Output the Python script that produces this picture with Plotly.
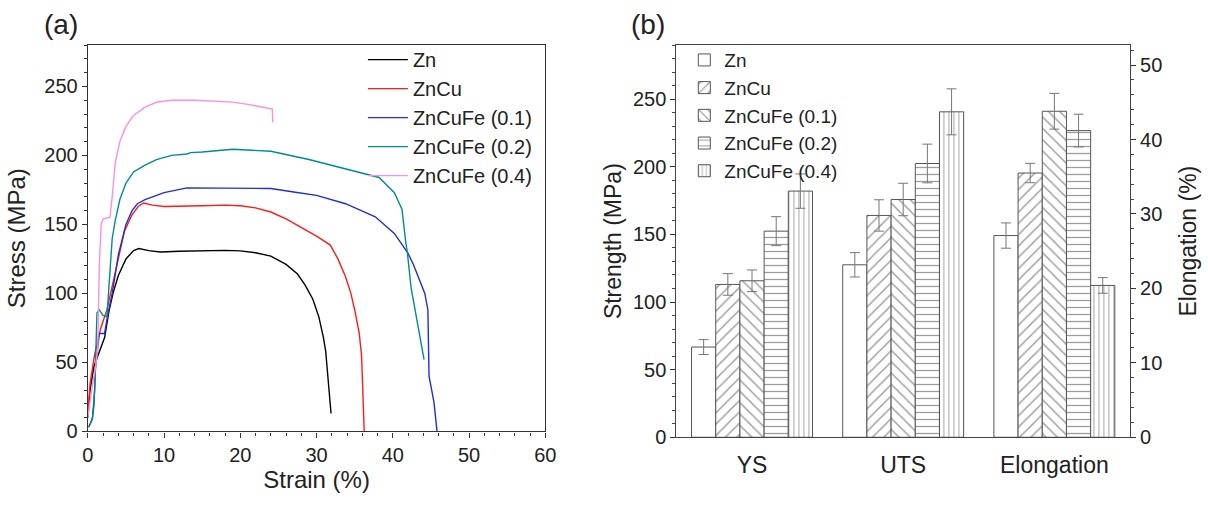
import plotly.graph_objects as go

# ---------------- Panel (a): stress-strain curves ----------------
zn_strain = [0, 0.3, 0.8, 1.5, 2.2, 2.8, 3.3, 4.0, 5.0, 6.0, 6.7, 8.0, 9.5, 12, 15, 18, 20, 22, 24, 26, 27.5, 28.5, 29.5, 30.3, 30.9, 31.2, 31.4, 31.6, 31.9]
zn_stress = [10, 30, 47, 57, 68, 88, 100, 113, 125, 131, 132.5, 131, 130, 130.5, 131, 131.2, 130.8, 129.5, 127, 121, 114, 106, 96, 83, 68, 58, 45, 30, 13]

zncu_strain = [0, 0.3, 0.9, 1.7, 2.5, 3.0, 4.0, 4.8, 5.8, 6.6, 7.3, 8.5, 10, 12, 15, 18, 20, 22, 24, 26, 28, 30, 31.8, 32.8, 33.8, 34.5, 35.0, 35.6, 35.9, 36.0, 36.15, 36.25]
zncu_stress = [14, 35, 56, 75, 88, 100, 125, 145, 157, 163, 165.5, 164, 163, 163, 163.5, 164, 163.5, 162, 159, 154, 148, 141.5, 135, 125, 112, 100, 88, 71, 55, 40, 20, 0]

fe01_strain = [0.1, 0.3, 0.6, 0.8, 1.0, 1.5, 2.2, 2.6, 3.2, 4.0, 5.0, 5.8, 6.5, 7.5, 10, 13, 16, 20, 24, 27, 30, 33.8, 37.7, 40.2, 42, 42.7, 43.5, 44.2, 44.6, 44.75, 45.1, 45.4, 45.8]
fe01_stress = [3, 5, 9, 19, 45, 71, 71, 84, 100, 128, 150, 160, 165, 168, 173, 176.5, 176.5, 176.3, 176, 173.5, 171, 165, 155.5, 143.5, 129, 121, 110, 100, 88, 40, 30, 21, 0]

fe02_strain = [0.3, 0.6, 0.9, 1.2, 1.5, 2.0, 2.5, 2.8, 3.2, 3.6, 4.2, 5.0, 6.0, 7.5, 9, 11, 13, 13.5, 15, 19, 24, 29, 34, 38.2, 40.2, 41.2, 41.7, 41.9, 42.4, 44.1]
fe02_stress = [5, 10, 30, 86, 88, 84, 83, 110, 140, 153, 168, 180, 188, 193, 197, 200, 201, 202, 202.5, 204.5, 203, 197, 190, 184, 173, 161, 137, 130, 104, 52]

fe04_strain = [0, 0.5, 1.0, 1.3, 1.5, 1.75, 2.0, 2.9, 3.2, 3.6, 4.2, 5.0, 6.0, 7.5, 9, 11, 14, 19, 21, 23, 24.2, 24.25]
fe04_stress = [10, 30, 46, 60, 120, 150, 154, 155, 170, 195, 210, 221, 229, 235, 238.5, 240, 240, 238.6, 237, 235, 233.5, 224]

curve_names = ["Zn", "ZnCu", "ZnCuFe (0.1)", "ZnCuFe (0.2)", "ZnCuFe (0.4)"]
curve_colors = ["#000000", "#ff1a1a", "#1f2fd6", "#008c8c", "#ff8fdc"]
curve_x = [zn_strain, zncu_strain, fe01_strain, fe02_strain, fe04_strain]
curve_y = [zn_stress, zncu_stress, fe01_stress, fe02_stress, fe04_stress]

# ---------------- Panel (b): bar chart ----------------
strength_cats = ["YS", "UTS"]
elong_cat = ["Elongation"]
bar_names = ["Zn", "ZnCu", "ZnCuFe (0.1)", "ZnCuFe (0.2)", "ZnCuFe (0.4)"]
ys_vals = [66.7, 113, 115.7, 152.4, 182]
ys_err = [5.5, 8, 8, 10.7, 12.7]
uts_vals = [127.5, 164, 175.8, 202.4, 240.6]
uts_err = [9, 11.6, 12, 14.3, 17]
elong_vals = [27.1, 35.5, 43.8, 41.2, 20.4]
elong_err = [1.7, 1.3, 2.4, 2.2, 1.05]
patterns = ["", "/", "\\", "-", "|"]
pattern_sizes = [8, 8, 8, 7, 5]

FONT = "Liberation Sans, Arial, sans-serif"
TXT = "#222222"

fig = go.Figure()

for name, col, xs, ys in zip(curve_names, curve_colors, curve_x, curve_y):
    fig.add_trace(go.Scatter(x=xs, y=ys, mode="lines", name=name,
                             line=dict(color=col, width=1.4),
                             xaxis="x", yaxis="y", legend="legend"))

for i, name in enumerate(bar_names):
    marker = dict(color="white", line=dict(color="#555555", width=1),
                  pattern=dict(shape=patterns[i], fgcolor="#3a3a3a", bgcolor="white",
                               size=pattern_sizes[i], solidity=0.18))
    fig.add_trace(go.Bar(x=strength_cats, y=[ys_vals[i], uts_vals[i]], name=name,
                         marker=marker,
                         error_y=dict(type="data", array=[ys_err[i], uts_err[i]],
                                      color="#777777", thickness=1, width=5),
                         xaxis="x2", yaxis="y2", legend="legend2",
                         legendgroup=name, showlegend=True))
    fig.add_trace(go.Bar(x=elong_cat, y=[elong_vals[i]], name=name,
                         marker=marker,
                         error_y=dict(type="data", array=[elong_err[i]],
                                      color="#777777", thickness=1, width=5),
                         xaxis="x2", yaxis="y3", legend="legend2",
                         legendgroup=name, showlegend=False))

W, H = 1208, 506
def px(v):
    return v / W
def py(v):
    return 1 - v / H

axis_common = dict(showline=True, linecolor="#333333", linewidth=1.2, mirror=True,
                   ticks="outside", ticklen=5, tickcolor="#333333", tickwidth=1,
                   showgrid=False, zeroline=False,
                   tickfont=dict(family=FONT, size=20, color=TXT),
                   title_font=dict(family=FONT, size=24, color=TXT))
axis_b = {**axis_common, "mirror": False, "linecolor": "#444444",
          "title_font": dict(family=FONT, size=23, color=TXT)}

fig.update_layout(
    width=W, height=H,
    margin=dict(l=0, r=0, t=0, b=0),
    paper_bgcolor="white", plot_bgcolor="white",
    barmode="group", bargap=0.2, bargroupgap=0,
    font=dict(family=FONT, color=TXT),
    xaxis=dict(domain=[px(83), px(547)], range=[0, 60], dtick=10,
               minor=dict(dtick=2, ticks="outside", ticklen=3, tickcolor="#333333"),
               title=dict(text="Strain (%)", standoff=6), anchor="y", **axis_common),
    yaxis=dict(domain=[py(441), py(46)], range=[0, 280], dtick=50,
               minor=dict(dtick=10, ticks="outside", ticklen=3, tickcolor="#333333"),
               title=dict(text="Stress (MPa)", standoff=11), anchor="x", **axis_common),
    xaxis2=dict(domain=[px(680), px(1140)], type="category",
                categoryorder="array", categoryarray=["YS", "UTS", "Elongation"],
                range=[-0.5, 2.5], anchor="y2",
                showline=True, linecolor="#444444", linewidth=1.2, mirror=True,
                ticks="outside", ticklen=7, tickcolor="rgba(0,0,0,0)",
                showgrid=False, zeroline=False,
                tickfont=dict(family=FONT, size=23, color=TXT)),
    yaxis2=dict(domain=[py(447), py(46)], range=[0, 290], dtick=50,
                minor=dict(dtick=10, ticks="outside", ticklen=3, tickcolor="#444444"),
                title=dict(text="Strength (MPa)", standoff=4), anchor="x2", **axis_b),
    yaxis3=dict(range=[0, 52.7], dtick=10, overlaying="y2", side="right", anchor="x2",
                minor=dict(dtick=2, ticks="outside", ticklen=3, tickcolor="#444444"),
                title=dict(text="Elongation (%)", standoff=18), **axis_b),
    legend=dict(x=px(362), y=py(41), xanchor="left", yanchor="top",
                bgcolor="rgba(0,0,0,0)", borderwidth=0,
                font=dict(family=FONT, size=20, color=TXT),
                itemwidth=40, tracegroupgap=0),
    legend2=dict(x=px(688), y=py(42), xanchor="left", yanchor="top",
                 bgcolor="rgba(0,0,0,0)", borderwidth=0,
                 font=dict(family=FONT, size=19, color=TXT),
                 itemwidth=30, traceorder="normal"),
    annotations=[
        dict(text="(a)", x=px(37), y=py(25), xref="paper", yref="paper",
             xanchor="left", yanchor="middle", showarrow=False,
             font=dict(family=FONT, size=28, color=TXT)),
        dict(text="(b)", x=px(632), y=py(25), xref="paper", yref="paper",
             xanchor="left", yanchor="middle", showarrow=False,
             font=dict(family=FONT, size=28, color=TXT)),
    ],
)

fig.write_html("out.html", config={"displayModeBar": False},
               post_script="document.body.style.margin='0px';")
